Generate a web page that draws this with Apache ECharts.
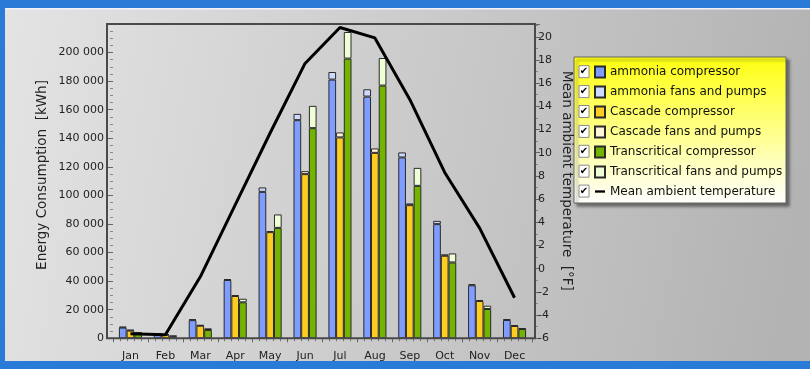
<!DOCTYPE html>
<html><head><meta charset="utf-8">
<script src="https://cdn.jsdelivr.net/npm/echarts@6/dist/echarts.min.js"></script>
<style>html,body{margin:0;padding:0;width:810px;height:369px;overflow:hidden}#c{width:810px;height:369px}</style>
</head><body><div id="c"></div>
<script>
const months = ['Jan','Feb','Mar','Apr','May','Jun','Jul','Aug','Sep','Oct','Nov','Dec'];
const ammoniaCompressor = [7500, 3000, 12700, 40800, 102500, 152700, 181100, 169200, 126600, 79900, 37100, 12800];
const ammoniaFans = [600, 500, 600, 700, 3100, 4400, 5300, 5100, 3500, 2300, 700, 700];
const cascadeCompressor = [5400, 2400, 8800, 29600, 74300, 114900, 140600, 129800, 93200, 57800, 26100, 8600];
const cascadeFans = [600, 400, 500, 700, 700, 2100, 3500, 3100, 1200, 900, 700, 700];
const transCompressor = [3600, 1400, 5800, 25200, 77300, 147100, 195800, 176900, 106700, 53100, 20500, 6500];
const transFans = [600, 400, 1200, 2500, 9400, 15600, 18600, 19300, 12600, 6300, 2300, 500];
const temperature = [-5.6, -5.7, -0.7, 5.5, 11.7, 17.7, 20.8, 19.9, 14.6, 8.3, 3.5, -2.5];
const seriesNames = ['ammonia compressor','ammonia fans and pumps','Cascade compressor','Cascade fans and pumps','Transcritical compressor','Transcritical fans and pumps','Mean ambient temperature'];

const FONT = 'DejaVu Sans';
const chart = echarts.init(document.getElementById('c'), null, {renderer:'canvas'});
const fmt = v => String(v).replace(/\B(?=(\d{3})+(?!\d))/g, ' ');

function barSeries(name, data, stack, color) {
  return {
    name, type: 'bar', stack, data, barWidth: 7.7, barGap: '0%',
    itemStyle: {color, borderColor: '#2a2a2a', borderWidth: 1},
    emphasis: {disabled: true}, z: 3
  };
}

const legendTop = 65.5, legendPitch = 19.9;
const checkboxes = [];
for (let i = 0; i < seriesNames.length; i++) {
  const cy = 71.7 + i * legendPitch;
  checkboxes.push({type:'rect', z: 10, shape:{x:579, y:cy-6, width:10, height:12}, style:{fill:'#fff', stroke:'#8a8a8a', lineWidth:1}});
  checkboxes.push({type:'text', z: 11, x:584, y:cy, style:{text:'\u2714', fill:'#000', font:'bold 10px "DejaVu Sans"', align:'center', verticalAlign:'middle'}});
}

const option = {
  animation: false,
  textStyle: {fontFamily: FONT},
  graphic: [
    {type:'rect', z:-100, shape:{x:0,y:0,width:810,height:369}, style:{fill: new echarts.graphic.LinearGradient(0,0,1,0.4,[{offset:0,color:'#e4e4e4'},{offset:1,color:'#b3b3b3'}])}},
    {type:'rect', z:50, shape:{x:0,y:0,width:810,height:8}, style:{fill:'#2a7ad8'}},
    {type:'rect', z:50, shape:{x:5,y:8,width:805,height:1.5}, style:{fill:'#f0f4fa'}},
    {type:'rect', z:50, shape:{x:0,y:0,width:5,height:369}, style:{fill:'#2a7ad8'}},
    {type:'rect', z:50, shape:{x:0,y:361,width:810,height:8}, style:{fill:'#2a7ad8'}},
    {type:'rect', z:6, shape:{x:107,y:24,width:428,height:314.3}, style:{fill:null, stroke:'#4a4a4a', lineWidth:2}},
    {type:'text', z:6, x:42, y:175, rotation: Math.PI/2, style:{text:'Energy Consumption  [kWh]', fill:'#222', font:'13.5px "DejaVu Sans"', align:'center', verticalAlign:'middle'}},
    {type:'text', z:6, x:566, y:181, rotation: -Math.PI/2, style:{text:'Mean ambient temperature  [°F]', fill:'#222', font:'13.5px "DejaVu Sans"', align:'center', verticalAlign:'middle'}},
    {type:'rect', z:1, shape:{x:574,y:57,width:212,height:146}, style:{fill: new echarts.graphic.LinearGradient(0,0,0,1,[{offset:0,color:'#ffff10'},{offset:1,color:'#ffffff'}]), stroke:'#666', lineWidth:1, shadowColor:'rgba(0,0,0,0.45)', shadowBlur:3, shadowOffsetX:3, shadowOffsetY:3}},
    ...checkboxes
  ],
  legend: {
    orient: 'vertical', left: 594, top: legendTop, padding: 0,
    itemWidth: 10, itemHeight: 11, itemGap: 7,
    selectedMode: false,
    textStyle: {fontSize: 12, fontFamily: FONT, color: '#111'},
    data: seriesNames.slice(0,6).map(n => ({name: n, icon: 'rect'})).concat([{name: seriesNames[6], icon: 'path://M0 0h13v3h-13z', itemStyle:{color:'#000', borderWidth:0}}])
  },
  grid: {left: 113, width: 419, top: 24, height: 314.3},
  xAxis: [
    {type:'category', data: months, boundaryGap: true,
     axisLine:{show:false}, axisTick:{show:false},
     axisLabel:{color:'#222', fontSize:11, fontFamily:FONT, margin:12}},
    {type:'value', min:0, max:12, interval:1, position:'bottom',
     axisLine:{show:false, onZero:false}, axisLabel:{show:false}, splitLine:{show:false},
     axisTick:{show:true, length:4, lineStyle:{color:'#666'}},
     minorTick:{show:true, splitNumber:5, length:3, lineStyle:{color:'#777'}}}
  ],
  yAxis: [
    {type:'value', min:0, max:220000, interval:20000, offset:6,
     axisLine:{show:false}, splitLine:{show:false},
     axisTick:{show:true, length:5, lineStyle:{color:'#666'}},
     minorTick:{show:true, splitNumber:4, length:3, lineStyle:{color:'#888'}},
     axisLabel:{formatter: fmt, showMaxLabel:false, color:'#222', fontSize:11, fontFamily:FONT, margin:3}},
    {type:'value', min:-6, max:21.1, interval:2, offset:3, position:'right',
     axisLine:{show:false}, splitLine:{show:false},
     axisTick:{show:true, length:5, lineStyle:{color:'#666'}},
     minorTick:{show:true, splitNumber:2, length:3, lineStyle:{color:'#888'}},
     axisLabel:{showMaxLabel:false, color:'#222', fontSize:11, fontFamily:FONT, margin:3}}
  ],
  series: [
    barSeries(seriesNames[0], ammoniaCompressor, 'ammonia', '#7f9cff'),
    barSeries(seriesNames[1], ammoniaFans, 'ammonia', '#cfdaff'),
    barSeries(seriesNames[2], cascadeCompressor, 'cascade', '#ffcc22'),
    barSeries(seriesNames[3], cascadeFans, 'cascade', '#fff4da'),
    barSeries(seriesNames[4], transCompressor, 'trans', '#72b400'),
    barSeries(seriesNames[5], transFans, 'trans', '#eeffd6'),
    {name: seriesNames[6], type:'line', yAxisIndex:1, data: temperature, symbol:'none', showSymbol:false,
     lineStyle:{color:'#000', width:3}, itemStyle:{color:'#000'}, z:5, emphasis:{disabled:true}}
  ]
};
chart.setOption(option);
</script>
</body></html>
